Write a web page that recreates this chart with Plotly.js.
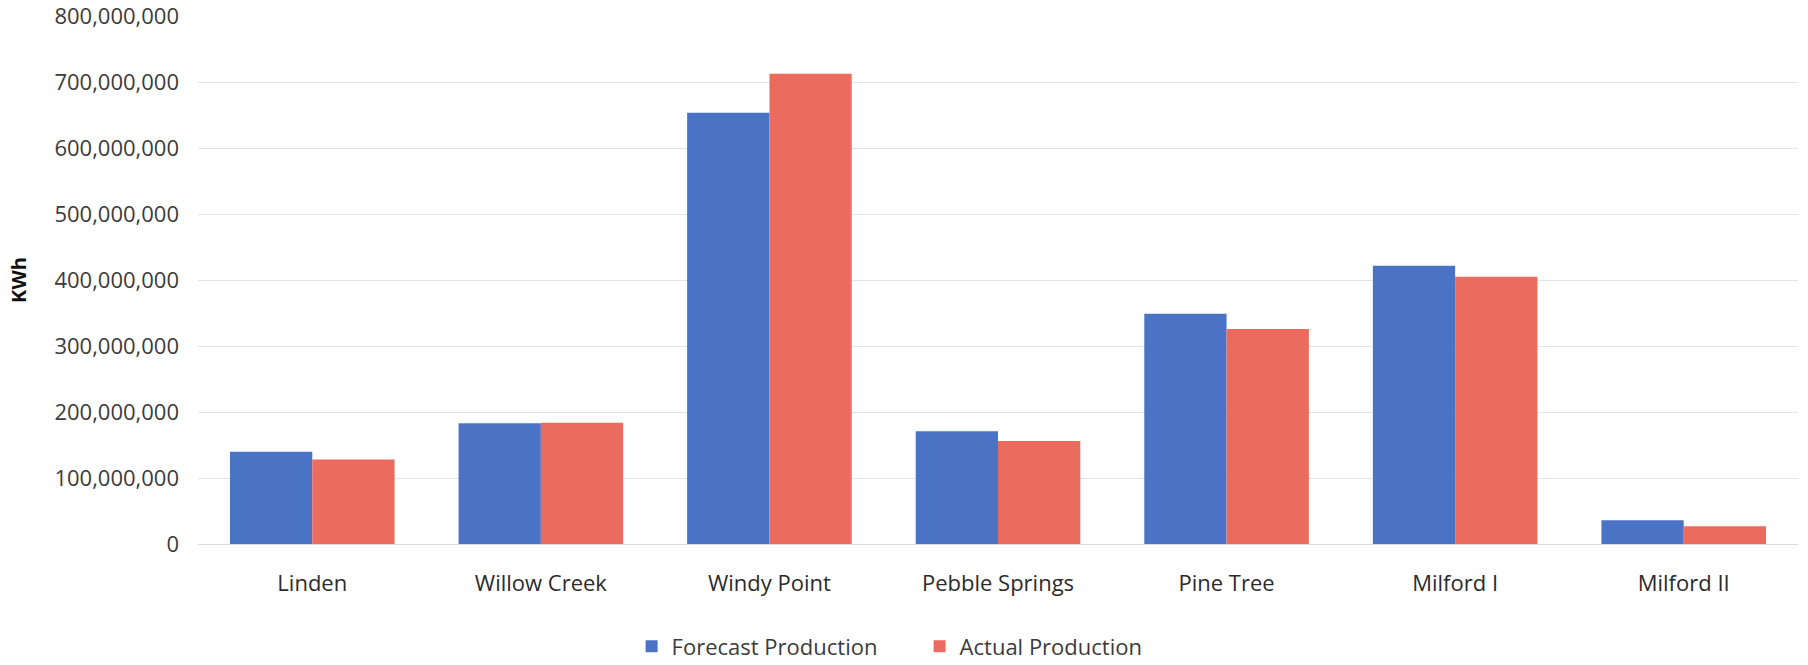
<!DOCTYPE html>
<html>
<head>
<meta charset="utf-8">
<script src="https://cdn.plot.ly/plotly-3.0.1.min.js"></script>
<style>html,body{margin:0;padding:0;background:#fff;}#chart{width:1808px;height:665px;}</style>
</head>
<body>
<div id="chart"></div>
<script>
const categories = ["Linden", "Willow Creek", "Windy Point", "Pebble Springs", "Pine Tree", "Milford I", "Milford II"];
const forecastProduction = [140000000, 183000000, 654000000, 171000000, 349000000, 422000000, 36000000];
const actualProduction = [128000000, 184000000, 713000000, 156000000, 326000000, 405000000, 27000000];
const yTickVals = [0, 100000000, 200000000, 300000000, 400000000, 500000000, 600000000, 700000000, 800000000];
const yTickText = ["0", "100,000,000", "200,000,000", "300,000,000", "400,000,000", "500,000,000", "600,000,000", "700,000,000", "800,000,000"];

const font = "'Open Sans', sans-serif";
const traces = [
  {type: 'bar', name: 'Forecast Production', x: categories, y: forecastProduction,
   marker: {color: '#4a73c5'}, hoverinfo: 'x+y+name'},
  {type: 'bar', name: 'Actual Production', x: categories, y: actualProduction,
   marker: {color: '#ec6b5f'}, hoverinfo: 'x+y+name'}
];
const layout = {
  width: 1808, height: 665,
  margin: {l: 198, r: 10, t: 16, b: 121, autoexpand: false},
  paper_bgcolor: '#fff', plot_bgcolor: '#fff',
  font: {family: font, size: 22, color: '#3b3b3b'},
  barmode: 'group', bargap: 0.28, bargroupgap: 0,
  showlegend: true,
  legend: {orientation: 'h', x: 0.271, xanchor: 'left', y: -0.194, yanchor: 'middle',
           font: {family: font, size: 22, color: '#3b3b3b'}, itemwidth: 30, entrywidth: 243, traceorder: 'normal'},
  xaxis: {type: 'category', showgrid: false, zeroline: false, showline: false, ticks: '',
          ticklabelstandoff: 24, tickfont: {family: font, size: 22, color: '#2b2b2b'}},
  yaxis: {range: [0, 800500000], tickvals: yTickVals, ticktext: yTickText,
          showgrid: true, gridcolor: '#e3e3e3', gridwidth: 1, zeroline: true, zerolinecolor: '#d9d9d9',
          showline: false, ticks: '', ticklabelstandoff: 18, ticklabeloverflow: 'allow',
          tickfont: {family: font, size: 22, color: '#3b3b3b'},
          title: {text: 'KWh', font: {family: font, size: 20, color: '#111', weight: 'bold'}, standoff: 22}}
};
Plotly.newPlot('chart', traces, layout, {displayModeBar: false, staticPlot: true});
</script>
</body>
</html>
